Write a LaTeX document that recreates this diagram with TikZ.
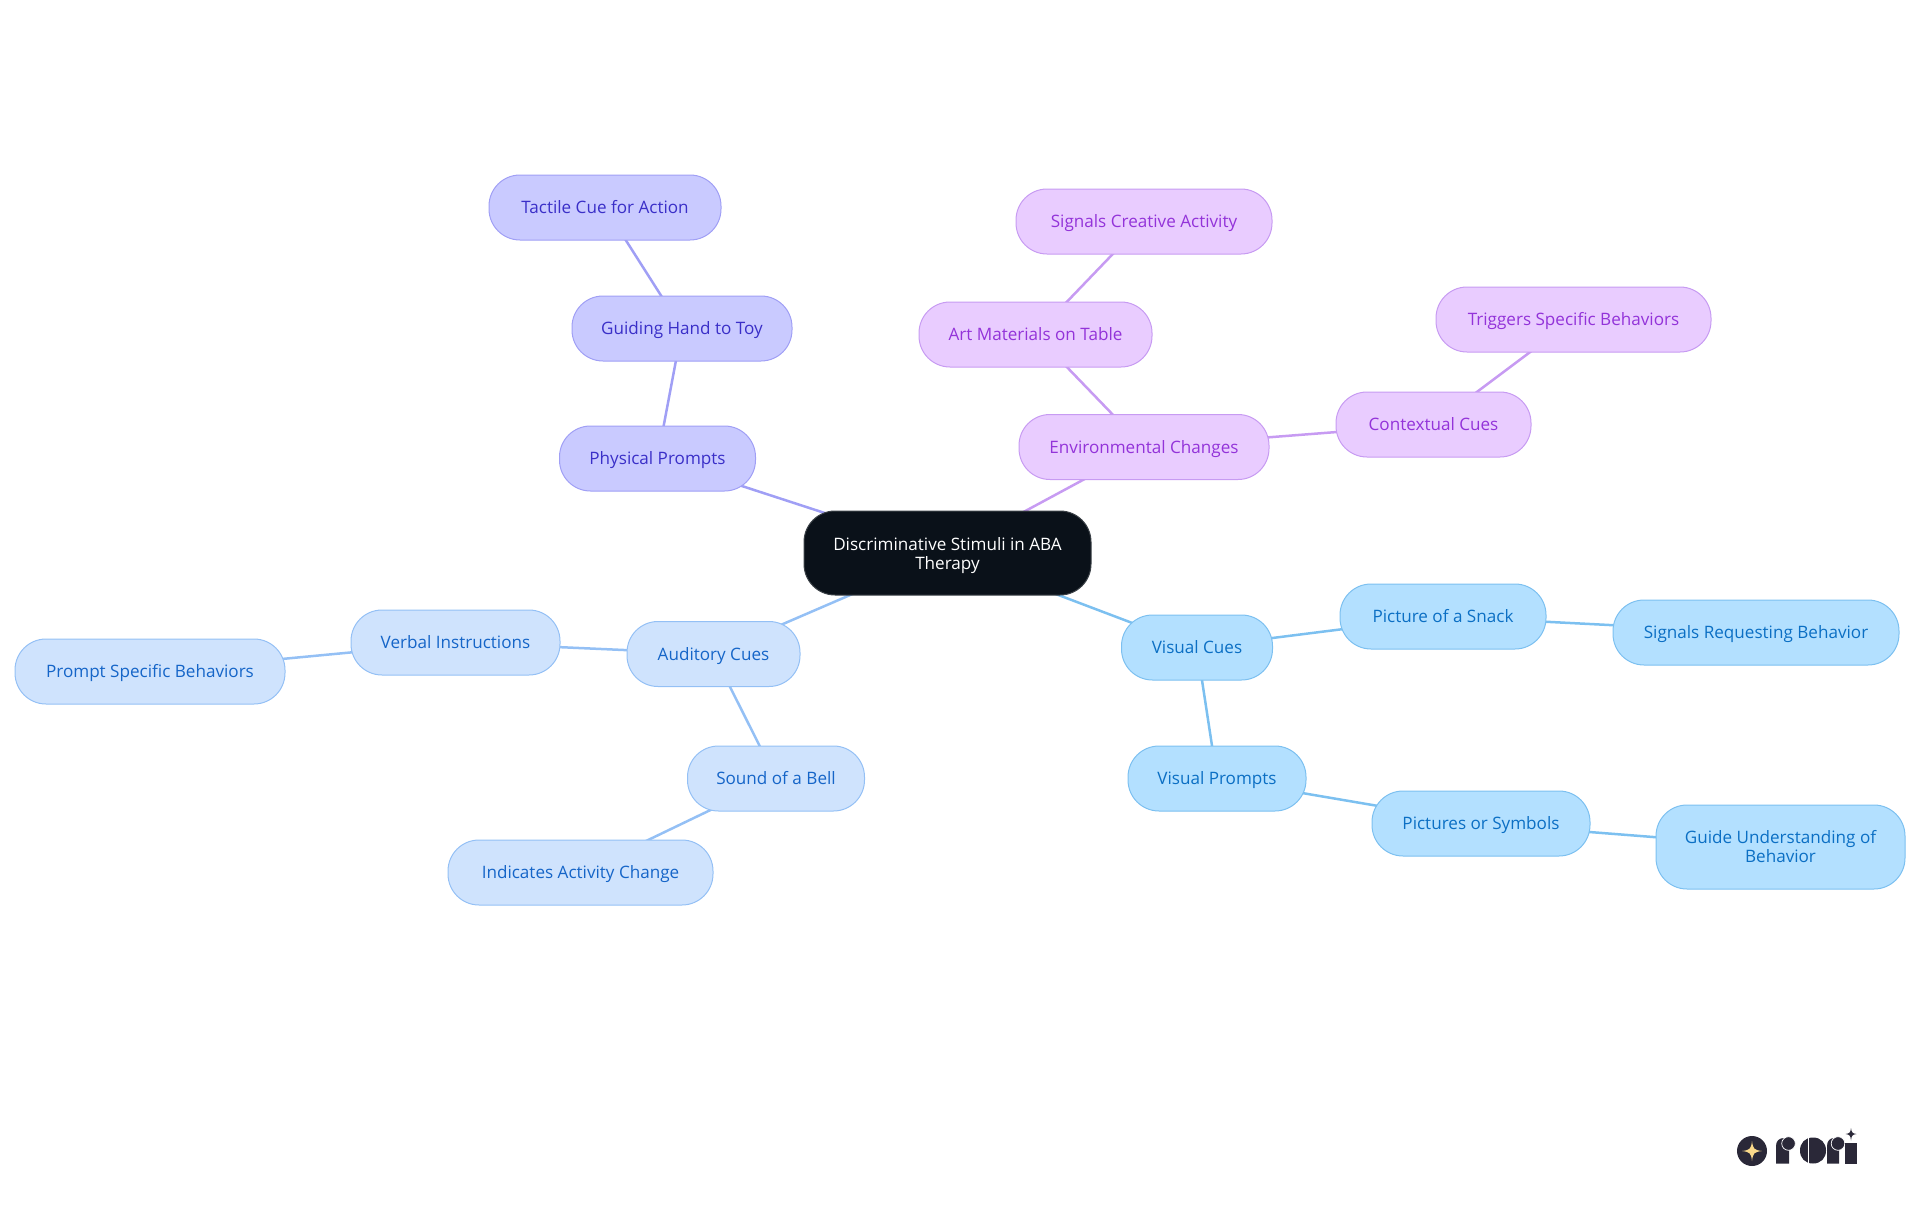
\documentclass[tikz,border=0pt]{standalone}
\usepackage{fontspec}
\setmainfont{Open Sans}
\usetikzlibrary{backgrounds}
\definecolor{rootfill}{HTML}{0A1119}
\definecolor{visfill}{HTML}{B3E0FF}
\definecolor{visline}{HTML}{7CC0F0}
\definecolor{vistext}{HTML}{0B6FC4}
\definecolor{audfill}{HTML}{CFE3FD}
\definecolor{audline}{HTML}{94C0F5}
\definecolor{audtext}{HTML}{1565C8}
\definecolor{phyfill}{HTML}{C9CAFF}
\definecolor{phyline}{HTML}{A09FF5}
\definecolor{phytext}{HTML}{3A2FC8}
\definecolor{envfill}{HTML}{E9CCFF}
\definecolor{envline}{HTML}{C79BF2}
\definecolor{envtext}{HTML}{9333D9}
\definecolor{logodark}{HTML}{2A2838}
\definecolor{logostar}{HTML}{FAD98A}
\tikzset{
  topic/.style={rectangle, rounded corners=31pt, align=center, inner sep=0pt,
    line width=1pt, minimum height=65pt, text height=16.5pt, text depth=4pt,
    font=\fontsize{17.1}{19}\selectfont},
  wrapped/.style={text height=, text depth=, minimum height=84pt},
  rootnode/.style={topic, wrapped, text depth=0pt, fill=rootfill, draw=rootfill!80!white, text=white},
  visnode/.style={topic, fill=visfill, draw=visline, text=vistext},
  audnode/.style={topic, fill=audfill, draw=audline, text=audtext},
  phynode/.style={topic, fill=phyfill, draw=phyline, text=phytext},
  envnode/.style={topic, fill=envfill, draw=envline, text=envtext},
  link/.style={line width=2.5pt},
}
\begin{document}
\begin{tikzpicture}[x=1pt, y=-1pt]
    \useasboundingbox (0,0) rectangle (1920,1215);

    % centre
    \node[rootnode, minimum width=287pt] (root) at (947.5,553) {Discriminative Stimuli in ABA\\Therapy};

    % physical prompts
    \node[phynode, minimum width=196pt] (physical) at (657.5,458.5) {Physical Prompts};
    \node[phynode, minimum width=220pt] (guiding) at (682,328.5) {Guiding Hand to Toy};
    \node[phynode, minimum width=232pt] (tactile) at (605,207.5) {Tactile Cue for Action};

    % environmental changes
    \node[envnode, minimum width=250pt] (environ) at (1144,447) {Environmental Changes};
    \node[envnode, minimum width=233pt] (art) at (1035.5,334.5) {Art Materials on Table};
    \node[envnode, minimum width=256pt] (creative) at (1144,221.5) {Signals Creative Activity};
    \node[envnode, minimum width=195pt] (context) at (1433.5,424.5) {Contextual Cues};
    \node[envnode, minimum width=275pt] (triggers) at (1573.5,319.5) {Triggers Specific Behaviors};

    % auditory cues
    \node[audnode, minimum width=173pt] (auditory) at (713.5,654) {Auditory Cues};
    \node[audnode, minimum width=209pt] (verbal) at (455.5,642.5) {Verbal Instructions};
    \node[audnode, minimum width=270pt] (promptspec) at (150,671.5) {Prompt Specific Behaviors};
    \node[audnode, minimum width=177pt] (bell) at (776,778.5) {Sound of a Bell};
    \node[audnode, minimum width=265pt] (indicates) at (580.5,872.5) {Indicates Activity Change};

    % visual cues
    \node[visnode, minimum width=151pt] (visual) at (1197,647.5) {Visual Cues};
    \node[visnode, minimum width=206pt] (snack) at (1443,616.5) {Picture of a Snack};
    \node[visnode, minimum width=286pt] (requesting) at (1756,632.5) {Signals Requesting Behavior};
    \node[visnode, minimum width=178pt] (vprompts) at (1217,778.5) {Visual Prompts};
    \node[visnode, minimum width=218pt] (symbols) at (1481,823.5) {Pictures or Symbols};
    \node[visnode, wrapped, minimum width=249pt] (guide) at (1780.5,847) {Guide Understanding of\\Behavior};

    % links sit behind the nodes
    \begin{scope}[on background layer]
        \draw[link, phyline] (root.center) -- (physical.center);
        \draw[link, phyline] (physical.center) -- (guiding.center);
        \draw[link, phyline] (guiding.center) -- (tactile.center);
        \draw[link, envline] (root.center) -- (environ.center);
        \draw[link, envline] (environ.center) -- (art.center);
        \draw[link, envline] (art.center) -- (creative.center);
        \draw[link, envline] (environ.center) -- (context.center);
        \draw[link, envline] (context.center) -- (triggers.center);
        \draw[link, audline] (root.center) -- (auditory.center);
        \draw[link, audline] (auditory.center) -- (verbal.center);
        \draw[link, audline] (verbal.center) -- (promptspec.center);
        \draw[link, audline] (auditory.center) -- (bell.center);
        \draw[link, audline] (bell.center) -- (indicates.center);
        \draw[link, visline] (root.center) -- (visual.center);
        \draw[link, visline] (visual.center) -- (snack.center);
        \draw[link, visline] (snack.center) -- (requesting.center);
        \draw[link, visline] (visual.center) -- (vprompts.center);
        \draw[link, visline] (vprompts.center) -- (symbols.center);
        \draw[link, visline] (symbols.center) -- (guide.center);
    \end{scope}

    % logo
    \fill[logodark] (1752,1151) circle (15);
    \fill[logostar] (1752,1141) .. controls (1753,1149) and (1754,1150) .. (1762,1151)
        .. controls (1754,1152) and (1753,1153) .. (1752,1161)
        .. controls (1751,1153) and (1750,1152) .. (1742,1151)
        .. controls (1750,1150) and (1751,1149) .. (1752,1141) -- cycle;
    \fill[logodark] (1776,1163.5) -- (1776,1146) .. controls (1776,1141) and (1779,1138) .. (1784,1138)
        -- (1789,1138) -- (1789,1163.5) -- cycle;
    \filldraw[draw=white, fill=logodark, line width=.7pt] (1788.5,1143.5) circle (6.8);
    \fill[logodark] (1813,1137.5) .. controls (1821,1137.5) and (1826,1143) .. (1826,1150.5)
        .. controls (1826,1158) and (1821,1163.5) .. (1813,1163.5)
        .. controls (1805,1163.5) and (1800,1158) .. (1800,1150.5)
        .. controls (1800,1143) and (1805,1137.5) .. (1813,1137.5) -- cycle;
    \fill[white] (1808,1137) rectangle (1809,1164);
    \fill[logodark] (1827,1163.5) -- (1827,1146) .. controls (1827,1141) and (1830,1138) .. (1834,1138)
        -- (1839,1138) -- (1839,1163.5) -- cycle;
    \filldraw[draw=white, fill=logodark, line width=.7pt] (1838,1143.5) circle (6.8);
    \fill[logodark] (1845,1163.5) -- (1845,1143) -- (1856.5,1143) -- (1856.5,1163.5) -- cycle;
    \fill[logodark] (1851,1128) .. controls (1851.5,1132) and (1852,1133.5) .. (1856.5,1134)
        .. controls (1852,1134.5) and (1851.5,1136) .. (1851,1140.5)
        .. controls (1850.5,1136) and (1850,1134.5) .. (1845.5,1134)
        .. controls (1850,1133.5) and (1850.5,1132) .. (1851,1128) -- cycle;
\end{tikzpicture}
\end{document}
